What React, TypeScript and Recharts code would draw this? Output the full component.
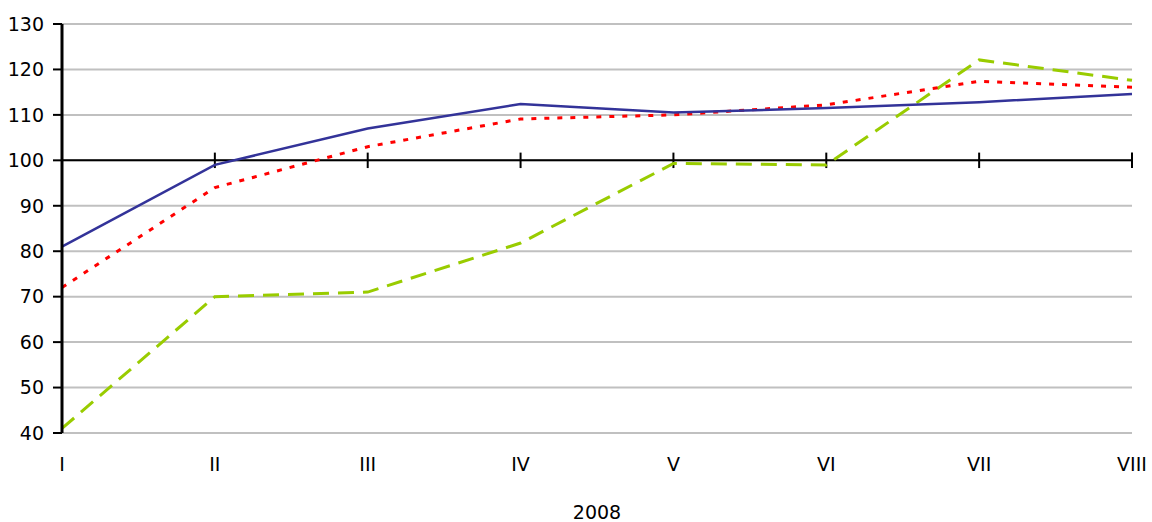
import { CartesianGrid, Label, Line, LineChart, ReferenceLine, XAxis, YAxis } from "recharts";

const months = ["I", "II", "III", "IV", "V", "VI", "VII", "VIII"];
const blueSeries = [81, 99, 107, 112.4, 110.5, 111.5, 112.8, 114.6];
const redSeries = [72, 94, 103, 109.1, 110, 112.2, 117.4, 116.1];
const greenSeries = [41, 70, 71, 81.8, 99.3, 99, 122.1, 117.6];
const yTicks = [40, 50, 60, 70, 80, 90, 100, 110, 120, 130];
const yearLabel = "2008";

const data = months.map((m, i) => ({
	month: m,
	blue: blueSeries[i],
	red: redSeries[i],
	green: greenSeries[i],
}));

const font = { fontFamily: "DejaVu Sans", fontSize: 19, fill: "#000" };

export default function App() {
	return (
		<div style={{ position: "absolute", left: 0, top: 0, background: "#fff" }}>
			<LineChart width={1152} height={522} data={data} margin={{ top: 24, right: 20, left: 0, bottom: 0 }}>
				<CartesianGrid vertical={false} stroke="#c0c0c0" strokeWidth={2} />
				<XAxis
					dataKey="month"
					scale="point"
					padding={{ left: 0, right: 0 }}
					axisLine={false}
					tickLine={false}
					tickSize={0}
					tickMargin={25}
					tick={font}
					height={89}
					interval={0}
				>
					<Label value={yearLabel} position="insideBottom" offset={3} style={font} />
				</XAxis>
				<YAxis
					domain={[40, 130]}
					ticks={yTicks}
					interval={0}
					width={62}
					axisLine={{ stroke: "#000", strokeWidth: 3 }}
					tickLine={{ stroke: "#000", strokeWidth: 2 }}
					tickSize={9}
					tickMargin={9}
					tick={font}
				/>
				<ReferenceLine y={100} stroke="#000" strokeWidth={2} />
				{months.map((m) => (
					<ReferenceLine
						key={m}
						segment={[
							{ x: m, y: 98.3 },
							{ x: m, y: 101.7 },
						]}
						stroke="#000"
						strokeWidth={2}
					/>
				))}
				<Line dataKey="green" stroke="#99cc00" strokeWidth={3} strokeDasharray="16 9" dot={false} isAnimationActive={false} />
				<Line dataKey="red" stroke="#ff0000" strokeWidth={3} strokeDasharray="5 8" dot={false} isAnimationActive={false} />
				<Line dataKey="blue" stroke="#333399" strokeWidth={2.5} dot={false} isAnimationActive={false} />
			</LineChart>
		</div>
	);
}
